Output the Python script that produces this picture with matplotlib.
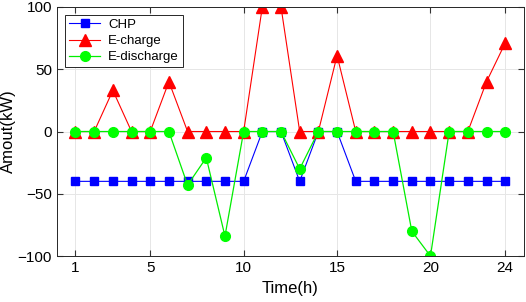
import numpy as np
import matplotlib
matplotlib.use("Agg")
import matplotlib.pyplot as plt

plt.rcParams['font.family'] = ['Liberation Sans', 'DejaVu Sans']

hours = np.arange(1, 25)
chp = [-40, -40, -40, -40, -40, -40, -40, -40, -40, -40, 0, 0,
       -40, 0, 0, -40, -40, -40, -40, -40, -40, -40, -40, -40]
e_charge = [0, 0, 33, 0, 0, 40, 0, 0, 0, 0, 100, 100,
            0, 0, 61, 0, 0, 0, 0, 0, 0, 0, 40, 71]
e_discharge = [0, 0, 0, 0, 0, 0, -43, -21, -84, 0, 0, 0,
               -30, 0, 0, 0, 0, 0, -80, -100, 0, 0, 0, 0]
xticks = [1, 5, 10, 15, 20, 24]
yticks = [-100, -50, 0, 50, 100]

fig = plt.figure(figsize=(5.26, 3.02), dpi=100)
ax = fig.add_axes([0.108, 0.152, 0.888, 0.825])

ax.plot(hours, chp, color='#0000ff', lw=0.8, marker='s', ms=6, label='CHP')
ax.plot(hours, e_charge, color='#ff0000', lw=0.8, marker='^', ms=8, label='E-charge')
ax.plot(hours, e_discharge, color='#00ee00', lw=0.9, marker='o', ms=7,
        markerfacecolor='#00ff00', markeredgecolor='#00ff00', label='E-discharge')

ax.set_xlim(0, 25)
ax.set_ylim(-100, 100)
ax.set_xticks(xticks)
ax.set_yticks(yticks)
ax.tick_params(direction='in', labelsize=11, length=4, color='#333333',
               top=True, right=True)
ax.grid(True, color='#e6e6e6', lw=0.7)
ax.set_axisbelow(True)
for s in ax.spines.values():
    s.set_color('#262626')
    s.set_linewidth(0.7)

ax.set_xlabel('Time(h)', fontsize=12)
ax.set_ylabel('Amout(kW)', fontsize=12)
ax.yaxis.set_label_coords(-0.088, 0.5)

leg = ax.legend(loc='upper left', fontsize=9.5, fancybox=False, framealpha=1,
                edgecolor='#262626', borderpad=0.3, labelspacing=0.3,
                handlelength=2.4, handletextpad=0.6, borderaxespad=0.6)
leg.get_frame().set_linewidth(0.7)

fig.savefig('out.png', dpi=100)
